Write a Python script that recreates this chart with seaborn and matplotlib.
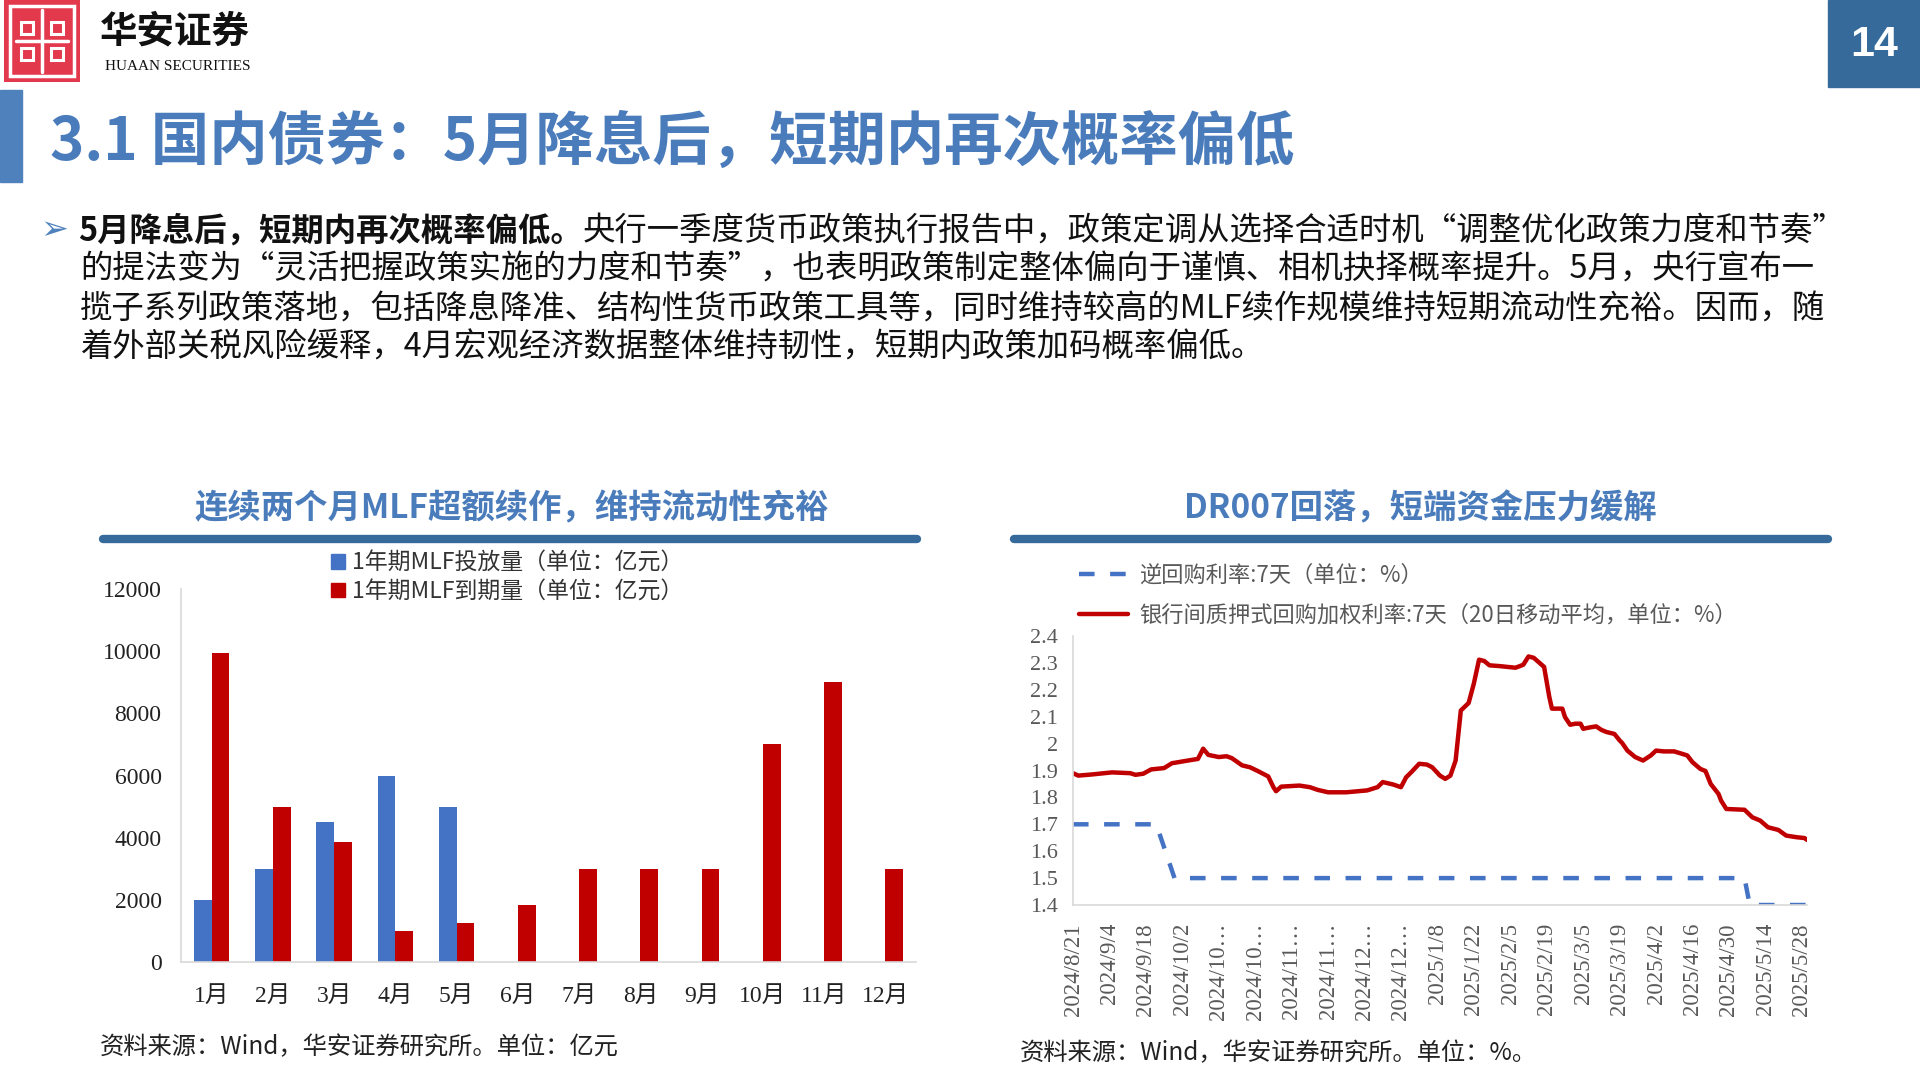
import matplotlib
matplotlib.use('Agg')
import matplotlib.pyplot as plt
from matplotlib.patches import Rectangle
from matplotlib.lines import Line2D
from matplotlib.ticker import FixedLocator, FuncFormatter
import seaborn as sns
import pandas as pd

# ---------------- data ----------------
months = ['1月', '2月', '3月', '4月', '5月', '6月', '7月', '8月', '9月', '10月', '11月', '12月']
mlf_issue = [2000, 3000, 4500, 6000, 5000, 0, 0, 0, 0, 0, 0, 0]
mlf_mature = [9950, 5000, 3870, 1000, 1250, 1820, 3000, 3000, 3000, 7000, 9000, 3000]
bar_labels = ['1年期MLF投放量（单位：亿元）', '1年期MLF到期量（单位：亿元）']

rr_dates = ['2024-08-21', '2024-09-22', '2024-09-29', '2025-05-06', '2025-05-08', '2025-05-30']
rr_rate = [1.7, 1.7, 1.5, 1.5, 1.4, 1.4]

dr_dates = ['2024-08-21', '2024-08-23', '2024-08-28', '2024-09-05', '2024-09-12', '2024-09-14',
            '2024-09-17', '2024-09-20', '2024-09-25', '2024-09-28', '2024-10-06', '2024-10-08',
            '2024-10-10', '2024-10-12', '2024-10-16', '2024-10-19', '2024-10-21', '2024-10-25',
            '2024-10-28', '2024-10-31', '2024-11-04', '2024-11-06', '2024-11-07', '2024-11-09',
            '2024-11-16', '2024-11-20', '2024-11-23', '2024-11-27', '2024-12-04', '2024-12-12',
            '2024-12-16', '2024-12-18', '2024-12-22', '2024-12-25', '2024-12-27', '2024-12-29',
            '2025-01-01', '2025-01-04', '2025-01-06', '2025-01-09', '2025-01-11', '2025-01-13',
            '2025-01-15', '2025-01-17', '2025-01-20', '2025-01-22', '2025-01-24', '2025-01-26',
            '2025-01-28', '2025-02-01', '2025-02-07', '2025-02-10', '2025-02-12', '2025-02-14',
            '2025-02-18', '2025-02-20', '2025-02-21', '2025-02-25', '2025-02-26', '2025-02-28',
            '2025-03-02', '2025-03-04', '2025-03-05', '2025-03-08', '2025-03-10', '2025-03-12',
            '2025-03-14', '2025-03-17', '2025-03-19', '2025-03-20', '2025-03-22', '2025-03-25',
            '2025-03-28', '2025-03-31', '2025-04-02', '2025-04-05', '2025-04-09', '2025-04-12',
            '2025-04-14', '2025-04-16', '2025-04-19', '2025-04-21', '2025-04-23', '2025-04-26',
            '2025-04-27', '2025-04-29', '2025-05-06', '2025-05-09', '2025-05-12', '2025-05-15',
            '2025-05-19', '2025-05-22', '2025-05-26', '2025-05-29', '2025-05-30']
dr_rate = [1.890, 1.881, 1.885, 1.893, 1.890, 1.884,
           1.888, 1.904, 1.909, 1.927, 1.940, 1.943,
           1.981, 1.958, 1.950, 1.953, 1.946, 1.919,
           1.912, 1.898, 1.878, 1.838, 1.823, 1.840,
           1.844, 1.838, 1.828, 1.819, 1.819, 1.826,
           1.838, 1.857, 1.848, 1.838, 1.875, 1.894,
           1.925, 1.922, 1.912, 1.881, 1.869, 1.881,
           1.937, 2.123, 2.151, 2.223, 2.312, 2.307,
           2.291, 2.288, 2.282, 2.293, 2.324, 2.319,
           2.285, 2.173, 2.130, 2.130, 2.099, 2.070,
           2.074, 2.074, 2.055, 2.061, 2.064, 2.051,
           2.043, 2.036, 2.012, 2.002, 1.974, 1.950,
           1.937, 1.956, 1.974, 1.971, 1.971, 1.962,
           1.956, 1.931, 1.906, 1.898, 1.850, 1.813,
           1.788, 1.757, 1.754, 1.726, 1.714, 1.689,
           1.679, 1.658, 1.652, 1.649, 1.642]
line_labels = ['逆回购利率:7天（单位：%）', '银行间质押式回购加权利率:7天（20日移动平均，单位：%）']

tick_dates = ['2024-08-21', '2024-09-04', '2024-09-18', '2024-10-02', '2024-10-16', '2024-10-30',
              '2024-11-13', '2024-11-27', '2024-12-11', '2024-12-25', '2025-01-08', '2025-01-22',
              '2025-02-05', '2025-02-19', '2025-03-05', '2025-03-19', '2025-04-02', '2025-04-16',
              '2025-04-30', '2025-05-14', '2025-05-28']
tick_labels = ['2024/8/21', '2024/9/4', '2024/9/18', '2024/10/2', '2024/10…', '2024/10…',
               '2024/11…', '2024/11…', '2024/12…', '2024/12…', '2025/1/8', '2025/1/22',
               '2025/2/5', '2025/2/19', '2025/3/5', '2025/3/19', '2025/4/2', '2025/4/16',
               '2025/4/30', '2025/5/14', '2025/5/28']

page_title = '3.1 国内债券：5月降息后，短期内再次概率偏低'
para_bold = '5月降息后，短期内再次概率偏低。'
para_lines = ['央行一季度货币政策执行报告中，政策定调从选择合适时机“调整优化政策力度和节奏”',
              '的提法变为“灵活把握政策实施的力度和节奏”，也表明政策制定整体偏向于谨慎、相机抉择概率提升。5月，央行宣布一',
              '揽子系列政策落地，包括降息降准、结构性货币政策工具等，同时维持较高的MLF续作规模维持短期流动性充裕。因而，随',
              '着外部关税风险缓释，4月宏观经济数据整体维持韧性，短期内政策加码概率偏低。']

# ---------------- style ----------------
sns.set_style('white')
plt.rcParams['font.family'] = ['Noto Sans CJK SC', 'DejaVu Sans']
plt.rcParams['axes.unicode_minus'] = False

BLUE_T = '#4A7CBC'
NAVY = '#356A9B'
BAR_BLUE = '#4472C4'
BAR_RED = '#C00000'
GRID = '#D9D9D9'
GRAY = '#595959'
SERIF = ['Liberation Serif', 'Noto Sans CJK SC']

W, H = 1920, 1080
fig = plt.figure(figsize=(19.2, 10.8), dpi=100)


def fx(x):
    return x / W


def fy(y):
    return 1 - y / H


# ---------------- header ----------------
fig.patches.append(Rectangle((0, fy(182)), fx(22), 92 / H, transform=fig.transFigure,
                             color='#4F81BD', zorder=1))
fig.patches.append(Rectangle((fx(1828), fy(87)), 92 / W, 87 / H, transform=fig.transFigure,
                             color=NAVY, zorder=1))
fig.text(fx(1874), fy(45), '14', color='white', fontsize=31, fontweight='bold',
         family='Liberation Sans', ha='center', va='center')

logo = fig.add_axes([fx(4), fy(82), 76 / W, 82 / H])
logo.set_xlim(0, 76)
logo.set_ylim(0, 82)
logo.axis('off')
logo.add_patch(Rectangle((0, 0), 76, 82, color='#E3394D'))
logo.add_patch(Rectangle((6, 6), 64, 70, fill=False, ec='white', lw=2.5))
logo.plot([38, 38], [10, 72], color='white', lw=2.5)
logo.plot([12, 64], [41, 41], color='white', lw=2.5)
for sx, sy in [(17, 48), (47, 48), (17, 22), (47, 22)]:
    logo.add_patch(Rectangle((sx, sy), 12, 12, fill=False, ec='white', lw=2.2))

fig.text(fx(100), fy(31), '华安证券', fontsize=27, fontweight='bold', color='#111111', va='center')
fig.text(fx(105), fy(67), 'HUAAN SECURITIES', fontsize=11, family='Liberation Serif',
         color='#111111', va='center')

fig.text(fx(50), fy(143), page_title, fontsize=42, fontweight='bold', color=BLUE_T, va='center')

# ---------------- paragraph ----------------
fig.text(fx(40), fy(230), '➢', fontsize=24, color='#4F81BD', va='center', family='DejaVu Sans')
renderer = fig.canvas.get_renderer()
t_bold = fig.text(fx(78), fy(231), para_bold, fontsize=23.3, fontweight='bold', color='#111111',
                  va='center')
bb = t_bold.get_window_extent(renderer=renderer)
fig.text(bb.x1 / W, fy(231), para_lines[0], fontsize=23.3, color='#111111', va='center')
for i, line in enumerate(para_lines[1:]):
    fig.text(fx(80), fy([270, 310, 348][i]), line, fontsize=23.3, color='#111111', va='center')

# ---------------- chart titles ----------------
fig.text(fx(512), fy(509), '连续两个月MLF超额续作，维持流动性充裕', fontsize=24, fontweight='bold',
         color=BLUE_T, ha='center', va='center')
fig.text(fx(1420), fy(509), 'DR007回落，短端资金压力缓解', fontsize=24, fontweight='bold',
         color=BLUE_T, ha='center', va='center')
fig.add_artist(Line2D([fx(103), fx(917)], [fy(539), fy(539)], color=NAVY, lw=6,
                      transform=fig.transFigure))
fig.add_artist(Line2D([fx(1014), fx(1828)], [fy(539), fy(539)], color=NAVY, lw=6,
                      transform=fig.transFigure))

# ---------------- left: bars ----------------
ax1 = fig.add_axes([fx(181), fy(962), (916 - 181) / W, (962 - 589) / H])
bars = pd.DataFrame({
    'month': months * 2,
    'value': mlf_issue + mlf_mature,
    'series': [bar_labels[0]] * 12 + [bar_labels[1]] * 12,
})
sns.barplot(data=bars, x='month', y='value', hue='series', palette=[BAR_BLUE, BAR_RED],
            width=0.58, linewidth=0, saturation=1, ax=ax1, legend=False)
ax1.set_xlim(-0.5, 11.5)
ax1.set_ylim(0, 12000)
ax1.set_yticks(range(0, 12001, 2000))
ax1.set_xlabel('')
ax1.set_ylabel('')
for s in ['top', 'right']:
    ax1.spines[s].set_visible(False)
for s in ['left', 'bottom']:
    ax1.spines[s].set_color(GRID)
    ax1.spines[s].set_linewidth(1.2)
ax1.tick_params(axis='x', length=0, pad=17, labelsize=17, labelcolor='#222222')
ax1.tick_params(axis='y', length=0, pad=14, labelsize=17, labelcolor='#222222')
ax1.xaxis.set_minor_locator(FixedLocator([i - 0.5 for i in range(13)]))
ax1.tick_params(axis='x', which='minor', length=8, color=GRID, width=1.2)
for lab in ax1.get_xticklabels() + ax1.get_yticklabels():
    lab.set_family(SERIF)

leg_handles = [Rectangle((0, 0), 1, 1, color=BAR_BLUE), Rectangle((0, 0), 1, 1, color=BAR_RED)]
fig.legend(leg_handles, bar_labels, loc='upper left', bbox_to_anchor=(fx(320), fy(540)),
           frameon=False, fontsize=16.5, handlelength=0.6, handleheight=0.6,
           handletextpad=0.3, labelspacing=0.25, borderpad=0, labelcolor='#333333')

# ---------------- right: lines ----------------
ax2 = fig.add_axes([fx(1073), fy(905), (1807 - 1073) / W, (905 - 636) / H])
sns.lineplot(x=pd.to_datetime(rr_dates), y=rr_rate, color=BAR_BLUE, lw=3.2, ax=ax2)
ax2.lines[-1].set_dashes((3.5, 3.5))
sns.lineplot(x=pd.to_datetime(dr_dates), y=dr_rate, color=BAR_RED, lw=3.2, ax=ax2)
ax2.set_xlim(pd.Timestamp('2024-08-21'), pd.Timestamp('2025-05-30'))
ax2.set_ylim(1.4, 2.4)
ax2.set_yticks([1.4 + 0.1 * i for i in range(11)])
ax2.yaxis.set_major_formatter(FuncFormatter(lambda v, p: f'{v:g}'))
ax2.set_xticks(pd.to_datetime(tick_dates))
ax2.set_xticklabels(tick_labels, rotation=90, va='top', ha='center')
ax2.set_xlabel('')
ax2.set_ylabel('')
for s in ['top', 'right']:
    ax2.spines[s].set_visible(False)
for s in ['left', 'bottom']:
    ax2.spines[s].set_color(GRID)
    ax2.spines[s].set_linewidth(1.2)
ax2.tick_params(axis='x', length=7, color=GRID, width=1.2, pad=6, labelsize=16.5, labelcolor=GRAY)
ax2.tick_params(axis='y', length=5, color=GRID, width=1.2, pad=6, labelsize=16, labelcolor=GRAY)
for lab in ax2.get_xticklabels() + ax2.get_yticklabels():
    lab.set_family(SERIF)

line_handles = [Line2D([], [], color=BAR_BLUE, lw=3.2, dashes=(3.5, 3.5)),
                Line2D([], [], color=BAR_RED, lw=3.2)]
fig.legend(line_handles, line_labels, loc='upper left', bbox_to_anchor=(fx(1068), fy(553)),
           frameon=False, fontsize=16, handlelength=2.2, handletextpad=0.5,
           labelspacing=0.75, borderpad=0, labelcolor=GRAY)

# ---------------- sources ----------------
fig.text(fx(100), fy(1047), '资料来源：Wind，华安证券研究所。单位：亿元', fontsize=17.5,
         color='#222222', va='center')
fig.text(fx(1020), fy(1053), '资料来源：Wind，华安证券研究所。单位：%。', fontsize=17.5,
         color='#222222', va='center')

fig.savefig('out.png', dpi=100)
